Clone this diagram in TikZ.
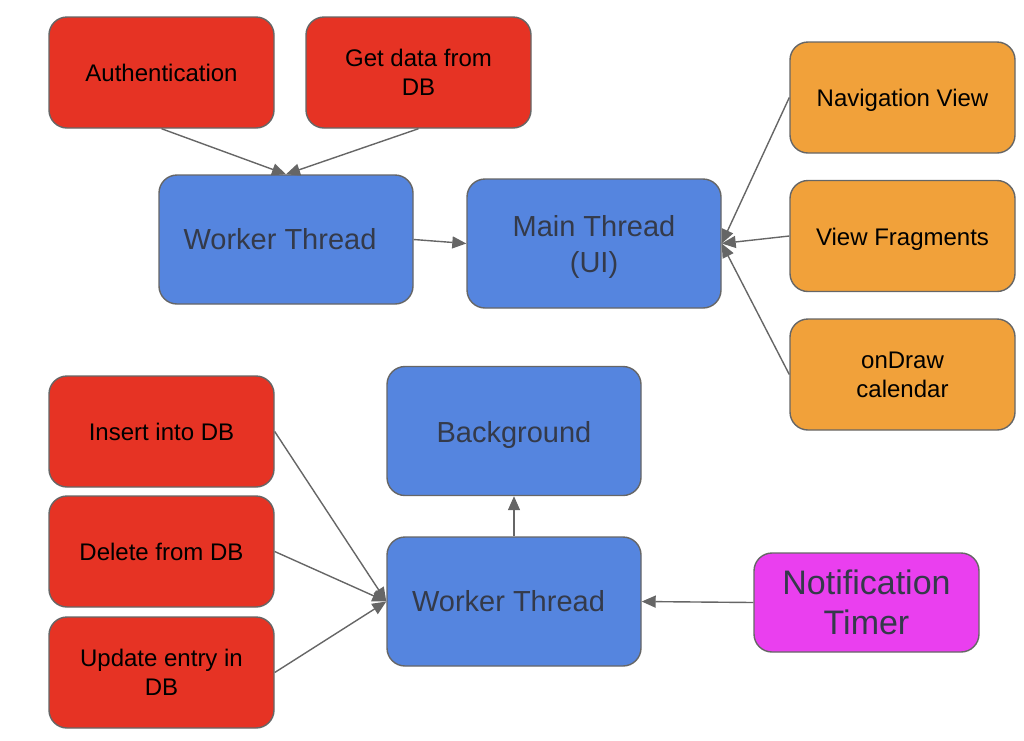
\documentclass[tikz,border=0pt]{standalone}
\usepackage{fontspec}
\setmainfont{Liberation Sans}
\usetikzlibrary{arrows.meta}
\definecolor{cred}{HTML}{E63324}
\definecolor{cblue}{HTML}{5585DF}
\definecolor{corange}{HTML}{F1A13A}
\definecolor{cmag}{HTML}{EA3FEF}
\definecolor{cborder}{HTML}{666666}
\definecolor{cdark}{HTML}{343A4A}
\tikzset{
  boxbase/.style={draw=cborder, line width=1.4pt, rounded corners=18pt, align=center, inner sep=0pt},
  redbox/.style={boxbase, fill=cred, minimum width=225pt, minimum height=111pt, font=\fontsize{24}{29}\selectfont, text=black},
  orangebox/.style={boxbase, fill=corange, minimum width=225pt, minimum height=111pt, font=\fontsize{24}{29}\selectfont, text=black},
  bluebox/.style={boxbase, fill=cblue, minimum width=254pt, minimum height=129pt, font=\fontsize{29}{36}\selectfont, text=cdark},
  magbox/.style={boxbase, fill=cmag, minimum width=225pt, minimum height=99pt, font=\fontsize{34}{40}\selectfont, text=cdark},
  conn/.style={draw=cborder, line width=1.4pt, -{Triangle[length=14pt,width=12pt]}}
}
\begin{document}
\begin{tikzpicture}[x=1pt,y=-1pt]
\useasboundingbox (0,0) rectangle (1024,740);
\node[redbox] (auth) at (161.5,72.5) {Authentication};
\node[redbox] (gd) at (418.5,72.5) {Get data from\\DB};
\node[bluebox] (wt) at (286,239.5) {Worker Thread\hspace*{12pt}};
\node[bluebox] (mt) at (594,243.5) {\rule{0pt}{28pt}Main Thread\\(UI)};
\node[orangebox] (nav) at (902.5,97.5) {\rule{0pt}{23pt}Navigation View};
\node[orangebox] (vf) at (902.5,236) {\rule{0pt}{23pt}View Fragments};
\node[orangebox] (od) at (902.5,374.5) {onDraw\\calendar};
\node[redbox] (ins) at (161.5,431.5) {Insert into DB};
\node[redbox] (del) at (161.5,551.5) {Delete from DB};
\node[redbox] (upd) at (161.5,672.5) {Update entry in\\DB};
\node[bluebox] (bg) at (514,431) {\rule{0pt}{29pt}Background};
\node[bluebox] (wb) at (514,601.5) {Worker Thread\hspace*{11pt}};
\node[magbox] (nt) at (866.5,602.5) {Notification\\Timer};
\draw[conn] (auth.south) -- (wt.north);
\draw[conn] (gd.south) -- (wt.north);
\draw[conn] (wt.east) -- (mt.west);
\draw[conn] (nav.west) -- (mt.east);
\draw[conn] (vf.west) -- (mt.east);
\draw[conn] (od.west) -- (mt.east);
\draw[conn] (ins.east) -- (wb.west);
\draw[conn] (del.east) -- (wb.west);
\draw[conn] (upd.east) -- (wb.west);
\draw[conn] (wb.north) -- (bg.south);
\draw[conn] (nt.west) -- (wb.east);
\end{tikzpicture}
\end{document}
